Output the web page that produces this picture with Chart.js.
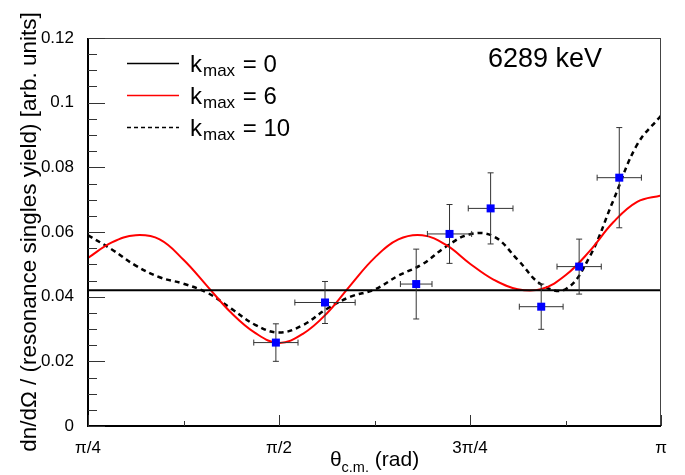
<!DOCTYPE html>
<html>
<head>
<meta charset="utf-8">
<title>6289 keV angular distribution</title>
<script src="https://cdn.jsdelivr.net/npm/chart.js@4.4.1/dist/chart.umd.min.js"></script>
<style>
  html, body { margin: 0; padding: 0; background: #fff; }
  canvas { display: block; }
</style>
</head>
<body>
<canvas id="angDist" width="685" height="475"></canvas>
<script>
// measured yields (theta in rad)
const thetaData = [1.558, 1.760, 2.135, 2.272, 2.441, 2.649, 2.805, 2.970];
const yieldData = [0.0258, 0.0382, 0.0439, 0.0594, 0.0673, 0.0369, 0.0493, 0.0768];
const thetaErr = [0.091, 0.124, 0.065, 0.091, 0.092, 0.090, 0.091, 0.091];
const yieldErr = [0.0058, 0.0065, 0.0108, 0.0091, 0.0110, 0.0070, 0.0085, 0.0155];

// Legendre fits, sampled every pi/32 from pi/4 to pi
const thetaGrid = [0.7854, 0.8836, 0.9817, 1.0799, 1.1781, 1.2763, 1.3744, 1.4726, 1.5708,
  1.6690, 1.7671, 1.8653, 1.9635, 2.0617, 2.1598, 2.2580, 2.3562, 2.4544, 2.5525, 2.6507,
  2.7489, 2.8471, 2.9452, 3.0434, 3.1416];
const fitK6 = [0.0520, 0.0568, 0.0590, 0.0577, 0.0514, 0.0432, 0.0350, 0.0288, 0.0257,
  0.0285, 0.0348, 0.0436, 0.0520, 0.0577, 0.0590, 0.0560, 0.0502, 0.0452, 0.0423, 0.0424,
  0.0466, 0.0540, 0.0630, 0.0693, 0.0713];
const fitK10 = [0.0590, 0.0546, 0.0496, 0.0460, 0.0440, 0.0412, 0.0363, 0.0313, 0.0289,
  0.0312, 0.0362, 0.0400, 0.0422, 0.0465, 0.0500, 0.0555, 0.0593, 0.0586, 0.0514, 0.0437,
  0.0423, 0.0522, 0.0697, 0.0870, 0.0960];
const fitK0Theta = [0.7854, 3.1416];
const fitK0 = [0.042, 0.042];
const kmaxValues = [0, 6, 10];

const xTickLabels = ['π/4', 'π/2', '3π/4', 'π'];
const xMajorTicks = [Math.PI / 4, Math.PI / 2, 3 * Math.PI / 4, Math.PI];
const yMajorTicks = [0, 0.02, 0.04, 0.06, 0.08, 0.1, 0.12];

const FONT = "'Liberation Sans', Arial, Helvetica, sans-serif";

function pts(xs, ys) {
  return xs.map((x, i) => ({ x: x, y: ys[i] }));
}

// majors with n evenly spaced minor ticks between each pair
function withMinors(majors, n) {
  const out = [];
  majors.forEach((m, i) => {
    out.push({ value: m, major: true });
    if (i < majors.length - 1) {
      const step = (majors[i + 1] - m) / (n + 1);
      for (let k = 1; k <= n; k++) out.push({ value: m + k * step, major: false });
    }
  });
  return out;
}

// error bars, inward ticks, frame and all the decorated text
const rootStyle = {
  id: 'rootStyle',
  afterDatasetsDraw(chart) {
    const ctx = chart.ctx;
    const xs = chart.scales.x, ys = chart.scales.y;
    ctx.save();
    ctx.strokeStyle = '#333';
    ctx.lineWidth = 1;
    thetaData.forEach((t, i) => {
      const px = xs.getPixelForValue(t);
      const py = ys.getPixelForValue(yieldData[i]);
      const x0 = xs.getPixelForValue(t - thetaErr[i]);
      const x1 = xs.getPixelForValue(t + thetaErr[i]);
      const y0 = ys.getPixelForValue(yieldData[i] + yieldErr[i]);
      const y1 = ys.getPixelForValue(yieldData[i] - yieldErr[i]);
      ctx.beginPath();
      ctx.moveTo(x0, py); ctx.lineTo(x1, py);
      ctx.moveTo(x0, py - 3); ctx.lineTo(x0, py + 3);
      ctx.moveTo(x1, py - 3); ctx.lineTo(x1, py + 3);
      ctx.moveTo(px, y0); ctx.lineTo(px, y1);
      ctx.moveTo(px - 3, y0); ctx.lineTo(px + 3, y0);
      ctx.moveTo(px - 3, y1); ctx.lineTo(px + 3, y1);
      ctx.stroke();
    });
    // squares on top of the bars
    ctx.fillStyle = '#0000ff';
    thetaData.forEach((t, i) => {
      const px = xs.getPixelForValue(t);
      const py = ys.getPixelForValue(yieldData[i]);
      ctx.fillRect(px - 4, py - 4, 8, 8);
    });
    ctx.restore();
  },
  afterDraw(chart) {
    const ctx = chart.ctx;
    const a = chart.chartArea;
    const xs = chart.scales.x, ys = chart.scales.y;
    ctx.save();

    // frame
    ctx.strokeStyle = '#444';
    ctx.lineWidth = 1;
    ctx.strokeRect(a.left + 0.5, a.top + 0.5, a.right - a.left - 1, a.bottom - a.top);
    ctx.strokeStyle = '#000';
    ctx.lineWidth = 2;
    ctx.beginPath();
    ctx.moveTo(a.left, a.top);
    ctx.lineTo(a.left, a.bottom);
    ctx.lineTo(a.right, a.bottom);
    ctx.stroke();

    // inward ticks
    ctx.strokeStyle = '#333';
    ctx.lineWidth = 1;
    ctx.beginPath();
    ys.ticks.forEach(t => {
      const py = Math.round(ys.getPixelForValue(t.value)) + 0.5;
      ctx.moveTo(a.left, py);
      ctx.lineTo(a.left + (t.major ? 17 : 9), py);
    });
    xs.ticks.forEach(t => {
      const px = Math.round(xs.getPixelForValue(t.value)) + 0.5;
      ctx.moveTo(px, a.bottom);
      ctx.lineTo(px, a.bottom - (t.major ? 11 : 5));
    });
    ctx.stroke();

    ctx.fillStyle = '#000';
    ctx.textBaseline = 'alphabetic';

    // legend
    const legendStyles = [
      { color: '#000', dash: [] },
      { color: '#ff0000', dash: [] },
      { color: '#000', dash: [4, 3] }
    ];
    kmaxValues.forEach((k, i) => {
      const ly = 63.5 + i * 32;
      ctx.strokeStyle = legendStyles[i].color;
      ctx.lineWidth = 1.6;
      ctx.setLineDash(legendStyles[i].dash);
      ctx.beginPath();
      ctx.moveTo(127, ly);
      ctx.lineTo(179, ly);
      ctx.stroke();
      ctx.setLineDash([]);
      let tx = 190;
      ctx.textAlign = 'left';
      ctx.font = '24px ' + FONT;
      ctx.fillText('k', tx, ly + 8);
      tx += ctx.measureText('k').width + 1;
      ctx.font = '17px ' + FONT;
      ctx.fillText('max', tx, ly + 12);
      tx += ctx.measureText('max').width + 1;
      ctx.font = '24px ' + FONT;
      ctx.fillText(' = ' + k, tx, ly + 8);
    });

    // energy label
    ctx.font = '27px ' + FONT;
    ctx.fillText('6289 keV', 488, 66.5);

    // y title
    ctx.save();
    ctx.translate(36, (a.top + a.bottom) / 2);
    ctx.rotate(-Math.PI / 2);
    ctx.textAlign = 'center';
    ctx.font = '22.5px ' + FONT;
    ctx.fillText('dn/dΩ / (resonance singles yield) [arb. units]', 0, 0);
    ctx.restore();

    // x title with subscript
    ctx.font = '21px ' + FONT;
    const wTheta = ctx.measureText('θ').width;
    const wRad = ctx.measureText(' (rad)').width;
    ctx.font = '14.5px ' + FONT;
    const wSub = ctx.measureText('c.m.').width;
    let tx = (a.left + a.right) / 2 - (wTheta + wSub + wRad) / 2;
    ctx.textAlign = 'left';
    ctx.font = '21px ' + FONT;
    ctx.fillText('θ', tx, 466);
    tx += wTheta;
    ctx.font = '14.5px ' + FONT;
    ctx.fillText('c.m.', tx, 472);
    tx += wSub;
    ctx.font = '21px ' + FONT;
    ctx.fillText(' (rad)', tx, 466);

    ctx.restore();
  }
};

const ctx = document.getElementById('angDist').getContext('2d');
const angDist = new Chart(ctx, {
  type: 'line',
  data: {
    datasets: [
      {
        label: 'kmax = 0',
        data: pts(fitK0Theta, fitK0),
        borderColor: '#000',
        borderWidth: 2,
        pointRadius: 0,
        tension: 0
      },
      {
        label: 'kmax = 6',
        data: pts(thetaGrid, fitK6),
        borderColor: '#ff0000',
        borderWidth: 2,
        pointRadius: 0,
        tension: 0.4
      },
      {
        label: 'kmax = 10',
        data: pts(thetaGrid, fitK10),
        borderColor: '#000',
        borderWidth: 2.5,
        borderDash: [5, 4],
        pointRadius: 0,
        tension: 0.4
      }
    ]
  },
  options: {
    responsive: false,
    animation: false,
    devicePixelRatio: 1,
    layout: { padding: { left: 0, top: 38, right: 24, bottom: 0 } },
    plugins: {
      legend: { display: false },
      tooltip: { enabled: false }
    },
    scales: {
      x: {
        type: 'linear',
        min: Math.PI / 4,
        max: Math.PI,
        grid: { display: false },
        border: { display: false },
        afterBuildTicks: s => { s.ticks = withMinors(xMajorTicks, 1); },
        afterFit: s => { s.height = 49; },
        ticks: {
          autoSkip: false,
          maxRotation: 0,
          padding: 4,
          color: '#000',
          font: { family: FONT, size: 17 },
          callback: v => {
            const i = xMajorTicks.findIndex(m => Math.abs(m - v) < 1e-9);
            return i >= 0 ? xTickLabels[i] : '';
          }
        }
      },
      y: {
        type: 'linear',
        min: 0,
        max: 0.12,
        grid: { display: false },
        border: { display: false },
        afterBuildTicks: s => { s.ticks = withMinors(yMajorTicks, 3); },
        afterFit: s => { s.width = 88; },
        ticks: {
          autoSkip: false,
          padding: 6,
          color: '#000',
          font: { family: FONT, size: 17 },
          callback: v => {
            const i = yMajorTicks.findIndex(m => Math.abs(m - v) < 1e-9);
            return i >= 0 ? String(yMajorTicks[i]) : '';
          }
        }
      }
    }
  },
  plugins: [rootStyle]
});
</script>
</body>
</html>
